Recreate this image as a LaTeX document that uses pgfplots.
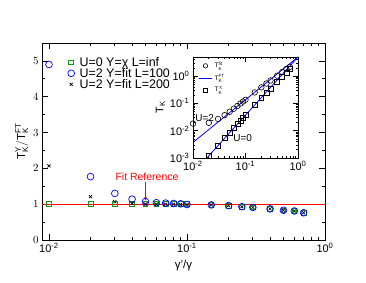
\documentclass[border=0pt]{standalone}
\usepackage{fontspec}
\setmainfont{Liberation Sans}
\usepackage{pgfplots}
\pgfplotsset{compat=1.18}
\definecolor{mgreen}{RGB}{20,150,20}
\definecolor{mblue}{RGB}{0,0,255}
\begin{document}
\begin{tikzpicture}
\useasboundingbox (-42bp,-43bp) rectangle (324bp,240bp);
\begin{axis}[
  at={(0,0)}, anchor=south west, scale only axis,
  width=283bp, height=197bp,
  xmode=log, xmin=0.0089, xmax=1, ymin=0, ymax=5.5,
  xtick={0.01,0.1,1},
  xticklabels={10\textsuperscript{-2},10\textsuperscript{-1},10\textsuperscript{0}},
  minor xtick={0.02,0.03,0.04,0.05,0.06,0.07,0.08,0.09,0.2,0.3,0.4,0.5,0.6,0.7,0.8,0.9},
  ytick={0,1,2,3,4,5},
  minor ytick={0.5,1.5,2.5,3.5,4.5,5.5},
  tick align=inside,
  major tick length=6bp, minor tick length=3bp,
  axis line style={line width=0.9pt},
  every tick/.style={black, line width=0.8pt},
  tick label style={font=\fontsize{11}{12}\selectfont},
  xlabel={γ'/γ},
  ylabel={$\mathrm{T}^{\mathrm{Y}}_{\mathrm{K}}/\mathrm{T}^{\mathrm{FT}}_{\mathrm{K}}$},
  label style={font=\fontsize{11.5}{13}\selectfont},
  ylabel style={yshift=-2bp},
  legend style={draw=none, fill=none, at={(0.08,0.95)}, anchor=north west,
    font=\fontsize{12.5}{13}\selectfont, row sep=-3.5pt},
  legend cell align=left,
]
\addplot[red, line width=0.8pt, forget plot] coordinates {(0.005,1) (2,1)};
\addplot[only marks, mark=square, mark size=2.4pt, mgreen, mark options={line width=0.7pt}] coordinates {
(0.01,1)(0.02,1)(0.03,1)(0.04,1)(0.05,1)(0.06,1)(0.07,1)(0.08,1)(0.09,1)(0.1,1)
(0.15,0.98)(0.2,0.96)(0.25,0.93)(0.3,0.91)(0.4,0.87)(0.5,0.83)(0.6,0.81)(0.7,0.76)};
\addlegendentry{\hspace{3pt}U=0 Y=χ L=inf}
\addplot[only marks, mark=o, mark size=3.4pt, mblue, mark options={line width=0.7pt}] coordinates {
(0.01,4.9)(0.02,1.77)(0.03,1.30)(0.04,1.14)(0.05,1.07)(0.06,1.04)(0.07,1.03)(0.08,1.02)(0.09,1.01)(0.1,0.99)
(0.15,0.98)(0.2,0.96)(0.25,0.93)(0.3,0.91)(0.4,0.87)(0.5,0.83)(0.6,0.81)(0.7,0.76)};
\addlegendentry{\hspace{3pt}U=2 Y=fit L=100}
\addplot[only marks, mark=x, mark size=2.2pt, black, mark options={line width=0.7pt}] coordinates {
(0.01,2.07)(0.02,1.21)(0.03,1.07)(0.04,1.02)(0.05,1.0)(0.06,1.0)(0.07,1.0)(0.08,1.0)(0.09,0.99)(0.1,0.99)
(0.15,0.98)(0.2,0.96)(0.25,0.93)(0.3,0.91)(0.4,0.87)(0.5,0.83)(0.6,0.81)(0.7,0.76)};
\addlegendentry{\hspace{3pt}U=2 Y=fit L=200}
\node[red, font=\fontsize{10.5}{12}\selectfont] at (axis cs:0.0513,1.77) {Fit Reference};
\draw[red, ->, >=stealth, line width=0.6pt] (axis cs:0.05,1.62) -- (axis cs:0.05,1.1);
\end{axis}
\begin{axis}[
  at={(151bp,82bp)}, anchor=south west, scale only axis,
  width=105bp, height=101bp,
  xmode=log, ymode=log, xmin=0.01, xmax=1, ymin=1e-3, ymax=5,
  axis background/.style={fill=white},
  xtick={0.01,0.1,1},
  xticklabels={10\textsuperscript{-2},10\textsuperscript{-1},10\textsuperscript{0}},
  minor xtick={0.02,0.03,0.04,0.05,0.06,0.07,0.08,0.09,0.2,0.3,0.4,0.5,0.6,0.7,0.8,0.9},
  ytick={0.001,0.01,0.1,1},
  yticklabels={10\textsuperscript{-3},10\textsuperscript{-2},10\textsuperscript{-1},10\textsuperscript{0}},
  minor ytick={0.002,0.003,0.004,0.005,0.006,0.007,0.008,0.009,0.02,0.03,0.04,0.05,0.06,0.07,0.08,0.09,0.2,0.3,0.4,0.5,0.6,0.7,0.8,0.9,2,3,4,5},
  tick align=inside,
  major tick length=5bp, minor tick length=2.5bp,
  axis line style={line width=0.9pt},
  every tick/.style={black, line width=0.7pt},
  tick label style={font=\fontsize{11}{12}\selectfont},
  ylabel={$\mathrm{T}_{\mathrm{K}}$},
  ylabel style={font=\fontsize{11}{12}\selectfont, at={(axis description cs:-0.31,0.5)}, anchor=center},
  legend style={draw=none, fill=none, at={(0.02,0.99)}, anchor=north west,
    font=\fontsize{6.5}{7}\selectfont, row sep=1pt},
  legend image post style={scale=0.8},
  legend cell align=left,
  clip=true,
]
\addplot[only marks, mark=o, mark size=2.8pt, black, mark options={line width=0.6pt}] coordinates {
(0.01,0.0182)(0.02,0.01946)(0.03,0.0270)(0.04,0.0371)(0.05,0.0493)(0.06,0.0639)(0.07,0.0804)(0.08,0.0982)(0.09,0.1169)(0.1,0.1351)
(0.15,0.2523)(0.2,0.387)(0.25,0.533)(0.3,0.693)(0.4,1.039)(0.5,1.406)(0.6,1.825)(0.7,2.18)};
\addlegendentry{$\mathrm{T}^{\mathrm{fit}}_{\mathrm{K}}$}
\addplot[mblue, line width=0.8pt] coordinates {(0.01,0.00372)(1,5.012)};
\addlegendentry{$\mathrm{T}^{\mathrm{FT}}_{\mathrm{K}}$}
\addplot[only marks, mark=square, mark size=2.5pt, black, mark options={line width=0.6pt}] coordinates {
(0.02,0.001205)(0.03,0.002859)(0.04,0.005276)(0.05,0.008486)(0.06,0.01252)(0.07,0.01738)(0.08,0.02310)(0.09,0.02968)(0.1,0.03715)
(0.15,0.0864)(0.2,0.1561)(0.25,0.2433)(0.3,0.3509)(0.4,0.6196)(0.5,0.9507)(0.6,1.368)(0.7,1.782)};
\addlegendentry{$\mathrm{T}^{\chi}_{\mathrm{K}}$}
\addplot[mblue, line width=0.8pt, forget plot] coordinates {(0.01,0.000275)(1,5.012)};
\node[font=\fontsize{10}{11}\selectfont] at (axis cs:0.0167,0.0295) {U=2};
\node[font=\fontsize{10}{11}\selectfont] at (axis cs:0.0886,0.0055) {U=0};
\end{axis}
\end{tikzpicture}
\end{document}
